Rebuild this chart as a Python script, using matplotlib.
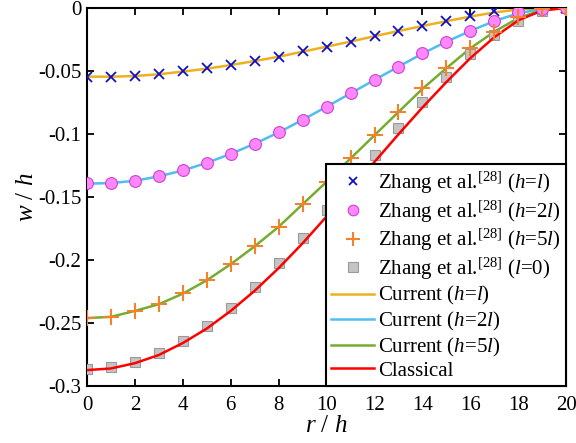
import matplotlib
matplotlib.use('Agg')
import matplotlib.pyplot as plt
import numpy as np

plt.rcParams['font.family'] = 'Liberation Serif'
plt.rcParams['mathtext.fontset'] = 'custom'
plt.rcParams['mathtext.rm'] = 'Liberation Serif'
plt.rcParams['mathtext.it'] = 'Liberation Serif:italic'
plt.rcParams['axes.unicode_minus'] = False

# r/h positions
r = list(range(0, 21))

# Zhang et al. [28] reference points
zhang_h1 = [-0.0545, -0.0548, -0.054, -0.0524, -0.050, -0.048, -0.045, -0.042, -0.0386, -0.0345,
            -0.0307, -0.0267, -0.0222, -0.0183, -0.014, -0.0106, -0.0065, -0.0025, -0.0008, -0.0002, 0.0]
zhang_h2 = [-0.139, -0.1388, -0.137, -0.1333, -0.1288, -0.1228, -0.1156, -0.1077, -0.0987, -0.0886,
            -0.0783, -0.0677, -0.0571, -0.0466, -0.036, -0.0267, -0.018, -0.010, -0.0035, -0.0006, 0.0]
zhang_h5 = [-0.2458, -0.245, -0.2402, -0.235, -0.2265, -0.2159, -0.2032, -0.189, -0.1735, -0.1556,
            -0.1378, -0.1193, -0.1008, -0.0823, -0.0638, -0.0474, -0.0315, -0.0188, -0.0075, -0.0012, 0.0]
zhang_l0 = [-0.2868, -0.2854, -0.2812, -0.2743, -0.2646, -0.2524, -0.238, -0.2212, -0.2026, -0.1823,
            -0.160, -0.139, -0.1167, -0.095, -0.0743, -0.055, -0.0368, -0.0214, -0.0100, -0.0022, 0.0]

# Current model curves
cur_h1 = [-0.0545, -0.0546, -0.054, -0.0526, -0.0505, -0.0482, -0.0453, -0.0421, -0.0387, -0.0347,
          -0.0307, -0.0267, -0.0224, -0.0183, -0.0143, -0.0105, -0.0068, -0.0036, -0.0012, -0.0002, 0.0]
cur_h2 = [-0.1395, -0.139, -0.1372, -0.1337, -0.129, -0.123, -0.1158, -0.1078, -0.0988, -0.0888,
          -0.0784, -0.0678, -0.0571, -0.0466, -0.0362, -0.0268, -0.0182, -0.0104, -0.0042, -0.0008, 0.0]
cur_h5 = [-0.2462, -0.2452, -0.2405, -0.2352, -0.2268, -0.2162, -0.2034, -0.1892, -0.1737, -0.1558,
          -0.138, -0.1195, -0.101, -0.0826, -0.0642, -0.0478, -0.032, -0.0188, -0.008, -0.0015, 0.0]
classical = [-0.2875, -0.2862, -0.282, -0.2755, -0.266, -0.2545, -0.2405, -0.2245, -0.2065, -0.1868,
             -0.1655, -0.144, -0.1222, -0.1003, -0.079, -0.0588, -0.0398, -0.0232, -0.0098, -0.0020, 0.0]

fig = plt.figure(figsize=(5.76, 4.43), dpi=100)
ax = fig.add_axes([0.151, 0.129, 0.832, 0.853])

ax.plot(r, zhang_h1, 'x', color='#1010C8', ms=7, mew=1.3, ls='none',
        label=r'Zhang et al.$^{[28]}$ ($h$=$l$)', zorder=4)
ax.plot(r, zhang_h2, 'o', mfc='#FF88FF', mec='#D040D0', ms=8.5, mew=0.8, ls='none',
        label=r'Zhang et al.$^{[28]}$ ($h$=2$l$)', zorder=4)
ax.plot(r, zhang_h5, '+', color='#F5822A', ms=11, mew=1.5, ls='none',
        label=r'Zhang et al.$^{[28]}$ ($h$=5$l$)', zorder=4)
ax.plot(r, zhang_l0, 's', mfc='#C4C4C4', mec='#9A9A9A', ms=7.5, mew=0.8, ls='none',
        label=r'Zhang et al.$^{[28]}$ ($l$=0)', zorder=3)

ax.plot(r, cur_h1, color='#EDB120', lw=1.8, label=r'Current ($h$=$l$)', zorder=2)
ax.plot(r, cur_h2, color='#4DBEEE', lw=1.8, label=r'Current ($h$=2$l$)', zorder=2)
ax.plot(r, cur_h5, color='#77AC30', lw=1.8, label=r'Current ($h$=5$l$)', zorder=2)
ax.plot(r, classical, color='#FF0000', lw=1.8, label='Classical', zorder=3.5)

ax.set_xlim(0, 20)
ax.set_ylim(-0.3, 0)
ax.set_xticks(np.arange(0, 21, 2))
ax.set_yticks([-0.3, -0.25, -0.2, -0.15, -0.1, -0.05, 0])
ax.set_yticklabels(['-0.3', '-0.25', '-0.2', '-0.15', '-0.1', '-0.05', '0'])
ax.tick_params(direction='in', top=True, right=True, labelsize=15, width=1.3, length=5)
ax.tick_params(axis='x', pad=7)
ax.tick_params(axis='y', pad=4)
for s in ax.spines.values():
    s.set_linewidth(1.5)

ax.set_xlabel(r'$r$ / $h$', fontsize=18, labelpad=0)
ax.set_ylabel(r'$w$ / $h$', fontsize=18, labelpad=0)

leg = ax.legend(loc='lower right', fontsize=15, frameon=True, fancybox=False,
                borderaxespad=0, handlelength=2.05, handletextpad=0.2,
                labelspacing=0.12, borderpad=0.25, markerscale=0.9)
leg.get_frame().set_edgecolor('black')
leg.get_frame().set_linewidth(1.5)
leg.get_frame().set_alpha(1)

fig.savefig('out.png', dpi=100)
